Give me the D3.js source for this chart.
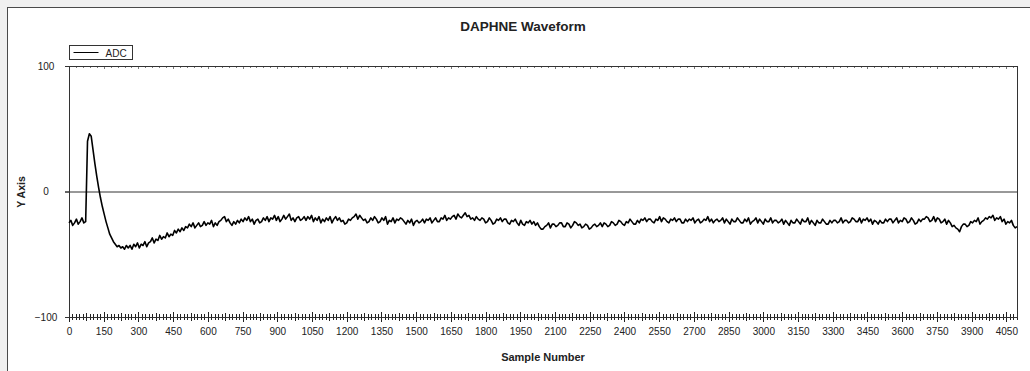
<!DOCTYPE html>
<html>
<head>
<meta charset="utf-8">
<script src="https://cdn.jsdelivr.net/npm/d3@7"></script>
<style>
  body { margin: 0; background: #f0f0f0; }
  svg { display: block; font-family: "Liberation Sans", Arial, sans-serif; }
</style>
</head>
<body>
<div class="chart"></div>
<script>
// ADC trace, one reading every 8 samples
var sampleStep = 8;
var adcValues = [
  -25,-23,-27,-25,-22,-26,-24,-21,-25,-24,40,46,44,33,22,12,3,-5,-12,-18,-24,-29,-34,-37,-40,-42,-44,-43,-45,-44,-46,-43,
  -45,-43,-46,-42,-44,-41,-45,-42,-43,-40,-44,-41,-40,-37,-41,-38,-39,-35,-38,-36,-37,-33,-36,-34,-35,-31,-33,-30,-32,-29,-31,-28,
  -29,-26,-28,-25,-29,-27,-25,-28,-27,-24,-27,-25,-26,-23,-28,-25,-27,-24,-23,-21,-20,-24,-22,-25,-27,-24,-26,-23,-25,-22,-24,-21,
  -23,-20,-24,-22,-26,-23,-22,-25,-24,-21,-23,-20,-24,-21,-22,-19,-23,-20,-24,-22,-19,-22,-20,-18,-23,-21,-24,-21,-20,-23,-22,-20,
  -23,-20,-22,-19,-24,-21,-23,-20,-25,-22,-24,-21,-23,-20,-25,-22,-20,-23,-21,-24,-23,-26,-25,-22,-23,-21,-20,-18,-22,-19,-21,-23,
  -22,-25,-24,-21,-23,-20,-22,-25,-24,-21,-23,-20,-26,-23,-24,-21,-25,-22,-23,-21,-22,-24,-26,-23,-25,-22,-27,-24,-23,-25,-24,-22,
  -25,-22,-23,-21,-25,-23,-21,-24,-24,-21,-22,-19,-23,-21,-22,-20,-19,-22,-18,-20,-21,-19,-17,-20,-19,-22,-21,-23,-20,-22,-23,-21,
  -22,-25,-24,-21,-23,-26,-25,-22,-23,-21,-24,-22,-22,-25,-26,-23,-24,-22,-25,-27,-23,-26,-27,-24,-25,-23,-26,-24,-27,-25,-28,-30,
  -30,-28,-27,-25,-29,-26,-26,-28,-27,-25,-25,-28,-28,-25,-26,-29,-27,-24,-25,-27,-26,-29,-28,-26,-27,-30,-29,-27,-26,-28,-27,-25,
  -28,-25,-26,-28,-27,-24,-25,-27,-26,-23,-24,-26,-27,-24,-25,-22,-24,-26,-26,-23,-25,-22,-23,-21,-24,-22,-22,-24,-25,-22,-23,-20,
  -24,-21,-22,-24,-25,-22,-23,-21,-24,-22,-22,-25,-25,-22,-24,-22,-23,-21,-25,-23,-22,-25,-24,-22,-23,-20,-24,-22,-25,-23,-22,-24,
  -23,-21,-25,-22,-24,-26,-22,-24,-24,-21,-23,-25,-25,-22,-24,-21,-26,-24,-23,-21,-25,-22,-24,-26,-22,-24,-24,-21,-25,-23,-23,-25,
  -24,-22,-26,-23,-25,-27,-23,-25,-25,-22,-24,-26,-22,-24,-24,-21,-26,-23,-25,-27,-23,-25,-25,-22,-24,-26,-26,-23,-25,-23,-23,-25,
  -24,-21,-25,-23,-23,-25,-24,-21,-22,-24,-24,-21,-25,-22,-23,-21,-24,-22,-26,-23,-24,-26,-23,-25,-25,-22,-24,-22,-22,-25,-23,-21,
  -25,-23,-24,-21,-22,-25,-24,-21,-23,-26,-25,-22,-24,-22,-22,-20,-21,-24,-23,-20,-24,-21,-22,-25,-24,-22,-26,-23,-25,-28,-27,-29,
  -30,-32,-28,-26,-26,-28,-27,-24,-25,-23,-24,-21,-26,-24,-23,-21,-22,-20,-21,-19,-23,-21,-22,-20,-24,-22,-26,-24,-25,-23,-27,-29,
  -28
];
var xTickLabels = [0,150,300,450,600,750,900,1050,1200,1350,1500,1650,1800,1950,2100,
  2250,2400,2550,2700,2850,3000,3150,3300,3450,3600,3750,3900,4050];
var yTickLabels = [-100, 0, 100];
var xMax = 4096;

var svgWidth = 1030;
var svgHeight = 371;
var margin = { top: 66, right: 13, bottom: 54, left: 69 };
var width = svgWidth - margin.left - margin.right;
var height = svgHeight - margin.top - margin.bottom;

var svg = d3.select(".chart")
  .append("svg")
  .attr("width", svgWidth)
  .attr("height", svgHeight);

// white panel with border, running past the right and bottom edges
svg.append("rect")
  .attr("x", 7.5).attr("y", 7.5)
  .attr("width", 1040).attr("height", 400)
  .attr("fill", "#fff")
  .attr("stroke", "#4a4a4a");

var chartGroup = svg.append("g")
  .attr("transform", `translate(${margin.left}, ${margin.top})`);

var xScale = d3.scaleLinear().domain([0, xMax]).range([0, width]);
var yScale = d3.scaleLinear().domain([-100, 100]).range([height, 0]);

// zero line
chartGroup.append("line")
  .attr("x1", -4).attr("x2", width)
  .attr("y1", yScale(0) + 0.5).attr("y2", yScale(0) + 0.5)
  .attr("stroke", "#333");

// minor/major ticks on bottom (crossing) and top (inside)
var minorTicks = d3.range(0, xMax, 15);
chartGroup.append("g").selectAll("line")
  .data(minorTicks)
  .enter().append("line")
  .attr("x1", d => Math.round(xScale(d)) + 0.5)
  .attr("x2", d => Math.round(xScale(d)) + 0.5)
  .attr("y1", d => height - (d % 150 === 0 ? 5 : (d % 75 === 0 ? 4 : 3)))
  .attr("y2", d => height + (d % 150 === 0 ? 5 : (d % 75 === 0 ? 4 : 3)))
  .attr("stroke", "#222")
  .attr("stroke-width", 1);

chartGroup.append("g").selectAll("line")
  .data(d3.range(0, xMax, 30))
  .enter().append("line")
  .attr("x1", d => Math.round(xScale(d)) + 0.5)
  .attr("x2", d => Math.round(xScale(d)) + 0.5)
  .attr("y1", 0)
  .attr("y2", d => d % 150 === 0 ? 3 : 2)
  .attr("stroke", "#555")
  .attr("stroke-width", 0.8);

// bottom axis labels
var bottomAxis = d3.axisBottom(xScale)
  .tickValues(xTickLabels)
  .tickFormat(d3.format("d"))
  .tickSize(0)
  .tickPadding(11);
var xAxisG = chartGroup.append("g")
  .attr("transform", `translate(0, ${height})`)
  .call(bottomAxis);
xAxisG.select(".domain").remove();
xAxisG.selectAll("text")
  .attr("font-size", 10)
  .attr("font-family", "Liberation Sans, Arial, sans-serif")
  .attr("fill", "#222");

// left axis labels (centered like the reference)
var leftAxis = d3.axisLeft(yScale)
  .tickValues(yTickLabels)
  .tickFormat(d3.format("d"))
  .tickSize(4)
  .tickPadding(10);
var yAxisG = chartGroup.append("g").call(leftAxis);
yAxisG.select(".domain").remove();
yAxisG.selectAll("line").attr("stroke", "#333");
yAxisG.selectAll("text")
  .attr("font-size", 10)
  .attr("font-family", "Liberation Sans, Arial, sans-serif")
  .attr("fill", "#222")
  .attr("text-anchor", "middle")
  .attr("x", -23);

// plot frame
chartGroup.append("rect")
  .attr("x", 0.5).attr("y", 0.5)
  .attr("width", width).attr("height", height)
  .attr("fill", "none")
  .attr("stroke", "#333");

// trace
var line = d3.line()
  .x((d, i) => xScale(i * sampleStep))
  .y(d => yScale(d));
chartGroup.append("path")
  .datum(adcValues)
  .attr("d", line)
  .attr("fill", "none")
  .attr("stroke", "#000")
  .attr("stroke-width", 1.6)
  .attr("stroke-linejoin", "round");

// legend
var legend = svg.append("g").attr("transform", "translate(69.5, 45.5)");
legend.append("rect")
  .attr("width", 63).attr("height", 14)
  .attr("fill", "#fff")
  .attr("stroke", "#333");
legend.append("line")
  .attr("x1", 4).attr("x2", 29).attr("y1", 7).attr("y2", 7)
  .attr("stroke", "#000");
legend.append("text")
  .attr("x", 36).attr("y", 11)
  .attr("font-size", 10)
  .attr("fill", "#222")
  .text("ADC");

// titles
svg.append("text")
  .attr("x", 523).attr("y", 31)
  .attr("text-anchor", "middle")
  .attr("font-size", 13.5)
  .attr("font-weight", "bold")
  .attr("fill", "#222")
  .text("DAPHNE Waveform");

svg.append("text")
  .attr("x", margin.left + width / 2).attr("y", 361)
  .attr("text-anchor", "middle")
  .attr("font-size", 11)
  .attr("font-weight", "bold")
  .attr("fill", "#222")
  .text("Sample Number");

svg.append("text")
  .attr("transform", "translate(25, 192) rotate(-90)")
  .attr("text-anchor", "middle")
  .attr("font-size", 10.5)
  .attr("font-weight", "bold")
  .attr("fill", "#222")
  .text("Y Axis");
</script>
</body>
</html>
